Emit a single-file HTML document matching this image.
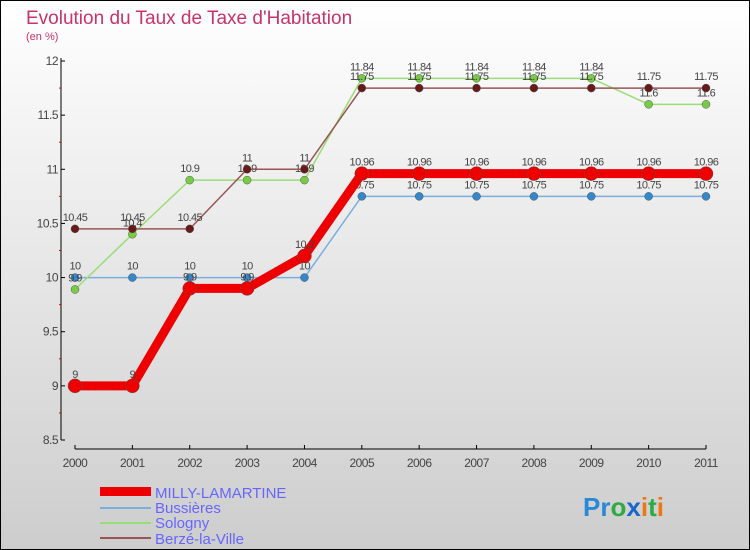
<!DOCTYPE html>
<html><head><meta charset="utf-8"><style>
body{margin:0}
svg{display:block;font-family:"Liberation Sans",sans-serif}
</style></head><body>
<svg id="c" width="750" height="550" xmlns="http://www.w3.org/2000/svg">
<defs><linearGradient id="bg" x1="0" y1="0" x2="0" y2="1"><stop offset="0" stop-color="#ffffff"/><stop offset="1" stop-color="#cdcdcd"/></linearGradient></defs>
<rect x="0.5" y="0.5" width="749" height="549" fill="url(#bg)" stroke="#000"/>
<text x="26" y="24" font-size="19" fill="#c8336a">Evolution du Taux de Taxe d'Habitation</text>
<text x="26" y="40" font-size="11" fill="#c8336a">(en %)</text>
<g id="axes"></g><g id="series"></g>
<g>
<rect x="100" y="487" width="51" height="9" fill="#e00"/>
<text x="155" y="498" font-size="15" fill="#6666ff">MILLY-LAMARTINE</text>
<line x1="100" y1="508" x2="151" y2="508" stroke="#7aaee0" stroke-width="2"/>
<text x="155" y="513" font-size="15" fill="#6666ff">Bussières</text>
<line x1="100" y1="523" x2="151" y2="523" stroke="#99dd77" stroke-width="2"/>
<text x="155" y="528" font-size="15" fill="#6666ff">Sologny</text>
<line x1="100" y1="538" x2="151" y2="538" stroke="#995555" stroke-width="2"/>
<text x="155" y="544" font-size="15" fill="#6666ff">Berzé-la-Ville</text>
</g>
<g font-size="26" font-weight="bold">
<text x="583" y="516"><tspan fill="#2a88d8">Pr</tspan><tspan fill="#2eaa44">o</tspan><tspan fill="#1a66cc">x</tspan><tspan fill="#ee7711">i</tspan><tspan fill="#2eaa44">t</tspan><tspan fill="#ee7711">i</tspan></text>
</g>
</svg>
<script>
const years=[2000,2001,2002,2003,2004,2005,2006,2007,2008,2009,2010,2011];
const milly=[9,9,9.9,9.9,10.2,10.96,10.96,10.96,10.96,10.96,10.96,10.96];
const bussieres=[10,10,10,10,10,10.75,10.75,10.75,10.75,10.75,10.75,10.75];
const sologny=[9.89,10.4,10.9,10.9,10.9,11.84,11.84,11.84,11.84,11.84,11.6,11.6];
const berze=[10.45,10.45,10.45,11,11,11.75,11.75,11.75,11.75,11.75,11.75,11.75];
const yTicks=[8.5,9,9.5,10,10.5,11,11.5,12];
const NS="http://www.w3.org/2000/svg";
const X=i=>75+i*(706-75)/11;
const Y=v=>61+(12-v)*(440-61)/3.5;
function mk(t,a,p){const e=document.createElementNS(NS,t);for(const k in a)e.setAttribute(k,a[k]);p.appendChild(e);return e;}
const ax=document.getElementById('axes');
let yl=mk('line',{x1:61,y1:58,x2:61,y2:440,stroke:'#000'},ax);


yTicks.forEach(v=>{
 mk('line',{x1:61,y1:Y(v),x2:65,y2:Y(v),stroke:'#000'},ax);
 if(v<12)mk('line',{x1:59,y1:Y(v+0.25),x2:61,y2:Y(v+0.25),stroke:'#d00'},ax);
 const t=mk('text',{x:58,y:Y(v)+4,'text-anchor':'end','font-size':12,fill:'#444','letter-spacing':'-0.5'},ax);
 t.textContent=String(v);
 
 
});
let xl=mk('line',{x1:75,y1:449,x2:706,y2:449,stroke:'#000'},ax);


years.forEach((y,i)=>{
 mk('line',{x1:X(i),y1:445,x2:X(i),y2:449,stroke:'#000'},ax);
 const t=mk('text',{x:X(i),y:467,'text-anchor':'middle','font-size':12,fill:'#444','letter-spacing':'-0.5'},ax);
 t.textContent=String(y);
 
 
});
const sg=document.getElementById('series');
function draw(vals,color,w,r,dot,name){
 const g=mk('g',{},sg);
 
 
 mk('polyline',{points:vals.map((v,i)=>X(i)+','+Y(v)).join(' '),fill:'none',stroke:color,'stroke-width':w,'stroke-linejoin':'round'},g);
 vals.forEach((v,i)=>{
  const c=mk('circle',{cx:X(i),cy:Y(v),r:r,fill:dot,stroke:'#555','stroke-width':0.5},g);
  
  
  const t=mk('text',{x:X(i),y:Y(v)-8,'text-anchor':'middle','font-size':11,fill:'#444','letter-spacing':'-0.6'},g);
  t.textContent=String(v===9.89?9.9:v);
  
  
 });
}
draw(bussieres,'#7aaee0',1.5,4,'#3388cc','series-bussieres');
draw(sologny,'#99dd77',1.5,4,'#77cc44','series-sologny');
draw(berze,'#995555',1.5,4,'#661a1a','series-berze');
draw(milly,'#ee0000',9,7,'#ee0000','series-milly');
</script>
</body></html>
